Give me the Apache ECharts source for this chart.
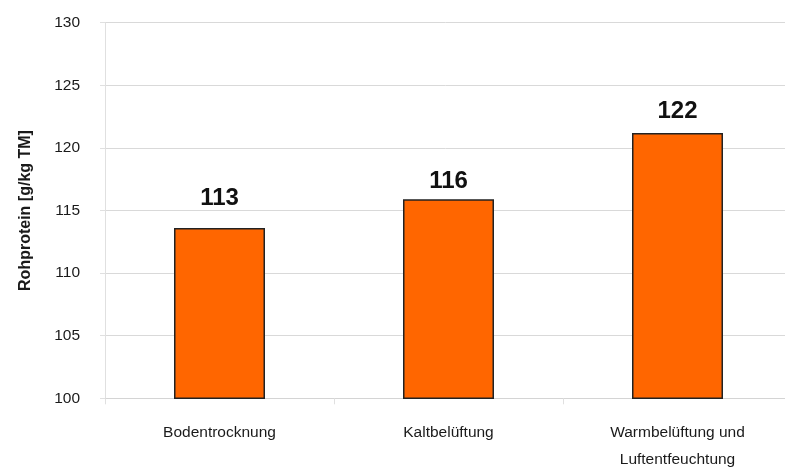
<!DOCTYPE html>
<html>
<head>
<meta charset="utf-8">
<script src="https://cdn.jsdelivr.net/npm/echarts@6/dist/echarts.min.js"></script>
<style>html,body{margin:0;padding:0;background:#fff;}#c{width:785px;height:467px;}</style>
</head>
<body>
<div id="c"></div>
<script>
var categories = ['Bodentrocknung', 'Kaltbelüftung', 'Warmbelüftung und\nLuftentfeuchtung'];
var values = [113.6, 115.9, 121.2];
var labelTexts = ['113', '116', '122'];
var labelGaps = [18, 6, 10];
var yTicks = [100, 105, 110, 115, 120, 125, 130];

var chart = echarts.init(document.getElementById('c'), null, {renderer: 'canvas'});
chart.setOption({
  animation: false,
  backgroundColor: '#fff',
  grid: {left: 105, top: 22.7, bottom: 68.7, width: 687, outerBoundsMode: 'none', containLabel: false},
  xAxis: {
    type: 'category',
    data: categories,
    axisLine: {show: true, lineStyle: {color: '#d4d4d4', width: 1}},
    axisTick: {show: true, length: 6, lineStyle: {color: '#e0e0e0'}},
    axisLabel: {color: '#1a1a1a', fontFamily: 'Liberation Sans, Arial', fontSize: 15.5, margin: 21, lineHeight: 27}
  },
  yAxis: {
    type: 'value',
    min: yTicks[0], max: yTicks[yTicks.length - 1], interval: 5,
    name: 'Rohprotein [g/kg TM]',
    nameLocation: 'middle',
    nameGap: 71,
    nameTextStyle: {color: '#1a1a1a', fontFamily: 'Liberation Sans, Arial', fontSize: 16, fontWeight: 'bold'},
    axisLine: {show: true, lineStyle: {color: '#e0e0e0', width: 1}},
    axisTick: {show: true, length: 5, lineStyle: {color: '#e0e0e0'}},
    axisLabel: {color: '#1a1a1a', fontFamily: 'Liberation Sans, Arial', fontSize: 15.5, margin: 25},
    splitLine: {show: true, lineStyle: {color: '#d9d9d9', width: 1}}
  },
  series: [{
    type: 'bar',
    barWidth: 91,
    data: values.map(function (v, i) {
      return {
        value: v,
        label: {
          show: true, position: 'top', distance: labelGaps[i],
          formatter: labelTexts[i],
          color: '#111', fontFamily: 'Liberation Sans, Arial', fontSize: 24, fontWeight: 'bold'
        }
      };
    }),
    itemStyle: {color: '#ff6600', borderColor: '#222', borderWidth: 1.5}
  }]
});
</script>
</body>
</html>
